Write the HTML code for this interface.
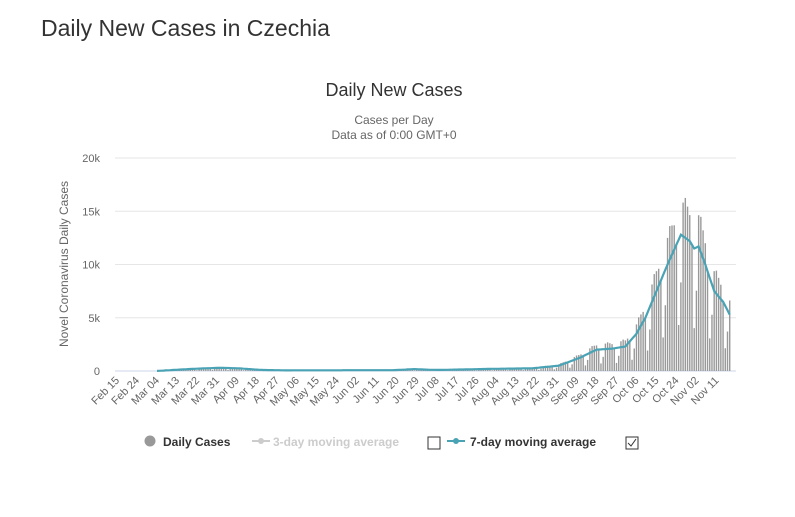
<!DOCTYPE html><html><head><meta charset="utf-8"><style>
body{margin:0;background:#fff;font-family:"Liberation Sans",sans-serif}
</style></head><body>
<svg id="s" width="795" height="512" xmlns="http://www.w3.org/2000/svg" font-family="Liberation Sans, sans-serif">
<text x="41" y="36" font-size="23" fill="#333">Daily New Cases in Czechia</text>
<text x="394" y="96" font-size="18" fill="#333" text-anchor="middle">Daily New Cases</text>
<text x="394" y="124" font-size="12" fill="#666" text-anchor="middle">Cases per Day</text>
<text x="394" y="139" font-size="12" fill="#666" text-anchor="middle">Data as of 0:00 GMT+0</text>
<g id="grid"></g>
<text transform="translate(68,264) rotate(-90)" font-size="12" fill="#666" text-anchor="middle">Novel Coronavirus Daily Cases</text>
<g id="bars" fill="#999"></g>
<polyline id="avg" fill="none" stroke="#4aa3b5" stroke-width="2.2"/>
<g id="xl" font-size="11" fill="#666"></g>
<g font-size="12" font-weight="bold">
<circle cx="150" cy="441" r="5.5" fill="#999"/><text x="163" y="446" fill="#333">Daily Cases</text>
<line x1="252" y1="441" x2="270" y2="441" stroke="#ccc" stroke-width="2"/><circle cx="261" cy="441" r="3" fill="#ccc"/>
<text x="273" y="446" fill="#ccc">3-day moving average</text>
<rect x="428" y="437" width="12" height="12" fill="#fff" stroke="#333"/>
<line x1="447" y1="441" x2="465" y2="441" stroke="#4aa3b5" stroke-width="2"/><circle cx="456" cy="441" r="3" fill="#4aa3b5"/>
<text x="470" y="446" fill="#333">7-day moving average</text>
<rect x="626" y="437" width="12" height="12" fill="#fff" stroke="#333"/>
<path d="M628 443l3 3l5-7" stroke="#333" fill="none" stroke-width="1"/>
</g>
</svg>
<script>
const NS="http://www.w3.org/2000/svg";
function el(t,a,p,txt){const e=document.createElementNS(NS,t);for(const k in a)e.setAttribute(k,a[k]);if(txt)e.textContent=txt;document.getElementById(p).appendChild(e);}
const y0=371,py=10.65/1000,x0=117,dx=2.22;
for(let i=0;i<=4;i++){const y=y0-i*5000*py;el('line',{x1:115,x2:736,y1:y,y2:y,stroke:i?'#e6e6e6':'#ccd6eb'},'grid');
el('text',{x:100,y:y+4,'text-anchor':'end','font-size':11,fill:'#666'},'grid',i?(i*5)+'k':'0');}
const k=[[0,0],[15,0],[18,5],[34,200],[46,300],[55,250],[65,100],[76,60],[125,80],[134,180],[140,120],[146,100],[168,200],[187,250],[199,500],[208,1200],[216,2000],[223,2100],[229,2300],[234,3500],[238,5000],[243,7500],[248,10000],[254,12800],[258,12200],[260,11500],[262,11700],[265,10000],[269,7500],[273,6500],[276,5300]];
function f(d){for(let i=1;i<k.length;i++)if(d<=k[i][0]){const a=k[i-1],b=k[i];return a[1]+(b[1]-a[1])*(d-a[0])/(b[0]-a[0]);}return 0;}
const w=[0.35,0.65,1.25,1.3,1.25,1.2,1.0];
let pts=[];
for(let d=0;d<=276;d++){const x=x0+d*dx;const v=f(d)*w[(6+d)%7];const h=v*py;
if(h>0.3)el('rect',{x:x-0.7,y:y0-h,width:1.4,height:h},'bars');
if(d>=18)pts.push(x.toFixed(1)+','+(y0-f(d)*py).toFixed(1));}
document.getElementById('avg').setAttribute('points',pts.join(' '));
const L="Feb 15,Feb 24,Mar 04,Mar 13,Mar 22,Mar 31,Apr 09,Apr 18,Apr 27,May 06,May 15,May 24,Jun 02,Jun 11,Jun 20,Jun 29,Jul 08,Jul 17,Jul 26,Aug 04,Aug 13,Aug 22,Aug 31,Sep 09,Sep 18,Sep 27,Oct 06,Oct 15,Oct 24,Nov 02,Nov 11".split(',');
L.forEach((t,i)=>{const x=x0+i*9*dx+3;el('text',{transform:`translate(${x},381) rotate(-45)`,'text-anchor':'end'},'xl',t);});
</script>
</body></html>
